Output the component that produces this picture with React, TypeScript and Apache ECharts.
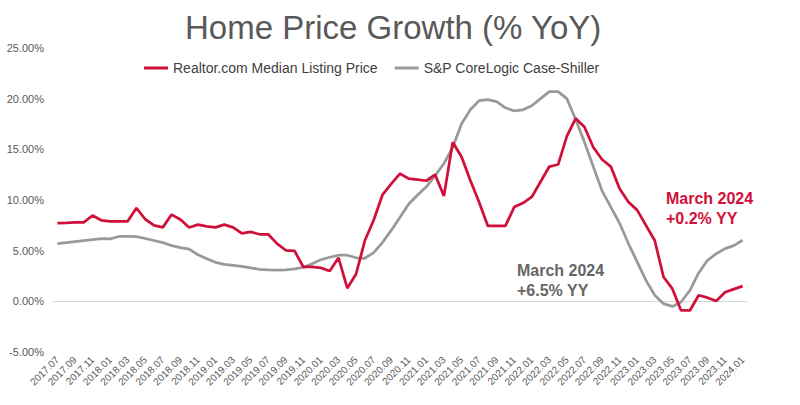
import React, { useEffect, useRef } from "react";
import * as echarts from "echarts";

const categories: string[] = [];
for (let y = 2017; y <= 2024; y++) {
  for (let m = 1; m <= 12; m++) {
    if ((y === 2017 && m < 7) || (y === 2024 && m > 1)) continue;
    categories.push(`${y}.${String(m).padStart(2, "0")}`);
  }
}

const realtorSeries = [
  7.73, 7.75, 7.78, 7.8, 8.47, 8.0, 7.9, 7.9, 7.9, 9.2,
  8.1, 7.5, 7.3, 8.56, 8.07, 7.28, 7.57, 7.4, 7.3, 7.57,
  7.3, 6.7, 6.85, 6.62, 6.62, 5.7, 5.04, 4.97, 3.39, 3.4,
  3.3, 3.0, 4.3, 1.3, 2.7, 6.0, 8.0, 10.5, 11.6, 12.6,
  12.1, 12.0, 11.9, 12.5, 10.4, 15.7, 14.26, 11.95, 9.8, 7.44,
  7.44, 7.44, 9.3, 9.7, 10.3, 11.8, 13.3, 13.5, 16.3, 18.05,
  17.2, 15.2, 14.0, 13.3, 11.1, 9.8, 9.0, 7.5, 6.0, 2.4,
  1.25, -0.9, -0.9, 0.6, 0.36, 0.03, 0.9, 1.2, 1.5,
];

const caseShillerSeries = [
  5.7, 5.8, 5.9, 6.0, 6.08, 6.18, 6.17, 6.4, 6.42, 6.38,
  6.2, 6.0, 5.8, 5.5, 5.3, 5.15, 4.6, 4.2, 3.85, 3.65,
  3.55, 3.45, 3.3, 3.15, 3.1, 3.08, 3.1, 3.2, 3.35, 3.7,
  4.1, 4.35, 4.55, 4.55, 4.3, 4.25, 4.8, 5.8, 7.0, 8.3,
  9.6, 10.5, 11.3, 12.4, 13.6, 15.2, 17.5, 18.9, 19.8, 19.9,
  19.7, 19.1, 18.8, 18.9, 19.3, 20.0, 20.7, 20.7, 20.0, 17.95,
  15.7, 13.3, 10.9, 9.3, 7.7, 5.7, 3.9, 2.07, 0.6, -0.23,
  -0.5, -0.07, 1.09, 2.8, 4.05, 4.7, 5.2, 5.5, 6.03,
];

const RED = "#d0103a";
const GRAY = "#999999";
const FONT = "'Liberation Sans', Arial, sans-serif";

export default function App() {
  const ref = useRef<HTMLDivElement>(null);
  useEffect(() => {
    if (!ref.current) return;
    const chart = echarts.init(ref.current, null, { renderer: "svg" });
    chart.setOption({
      animation: false,
      backgroundColor: "#ffffff",
      textStyle: { fontFamily: FONT },
      title: {
        text: "Home Price Growth (% YoY)",
        left: 180,
        top: 6,
        textStyle: { fontSize: 33, fontWeight: "normal", color: "#595959", fontFamily: FONT },
      },
      legend: {
        top: 56,
        left: 139,
        itemWidth: 24,
        itemHeight: 3,
        itemGap: 17,
        icon: "rect",
        textStyle: { fontSize: 14, color: "#404040", fontFamily: FONT },
        data: ["Realtor.com Median Listing Price", "S&P CoreLogic Case-Shiller"],
      },
      grid: { left: 53, right: 53, top: 48, bottom: 53, containLabel: false },
      xAxis: {
        type: "category",
        data: categories,
        boundaryGap: true,
        axisLine: { show: true, lineStyle: { color: "#d9d9d9", width: 1 } },
        axisTick: { show: false },
        axisLabel: {
          interval: 1,
          rotate: 45,
          fontSize: 10,
          color: "#595959",
          margin: 6,
          fontFamily: FONT,
        },
        splitLine: { show: false },
      },
      yAxis: {
        type: "value",
        min: -5,
        max: 25,
        interval: 5,
        axisLine: { show: false },
        axisTick: { show: false },
        splitLine: { show: false },
        axisLabel: {
          formatter: (v: number) => v.toFixed(2) + "%",
          fontSize: 11,
          color: "#595959",
          margin: 9,
          fontFamily: FONT,
        },
      },
      series: [
        {
          name: "Realtor.com Median Listing Price",
          type: "line",
          data: realtorSeries,
          showSymbol: false,
          symbol: "none",
          lineStyle: { color: RED, width: 2.75 },
          itemStyle: { color: RED },
          z: 3,
        },
        {
          name: "S&P CoreLogic Case-Shiller",
          type: "line",
          data: caseShillerSeries,
          showSymbol: false,
          symbol: "none",
          lineStyle: { color: GRAY, width: 2.75 },
          itemStyle: { color: GRAY },
          z: 2,
        },
      ],
      graphic: [
        {
          type: "text",
          left: 666,
          top: 188,
          style: {
            text: "March 2024\n+0.2% YY",
            fill: RED,
            font: `bold 16px ${FONT}`,
            lineHeight: 20,
          },
        },
        {
          type: "text",
          left: 517,
          top: 260,
          style: {
            text: "March 2024\n+6.5% YY",
            fill: "#666666",
            font: `bold 16px ${FONT}`,
            lineHeight: 20,
          },
        },
      ],
    });
    return () => chart.dispose();
  }, []);
  return (
    <div
      ref={ref}
      style={{ position: "fixed", left: 0, top: 0, width: 800, height: 405 }}
    />
  );
}
